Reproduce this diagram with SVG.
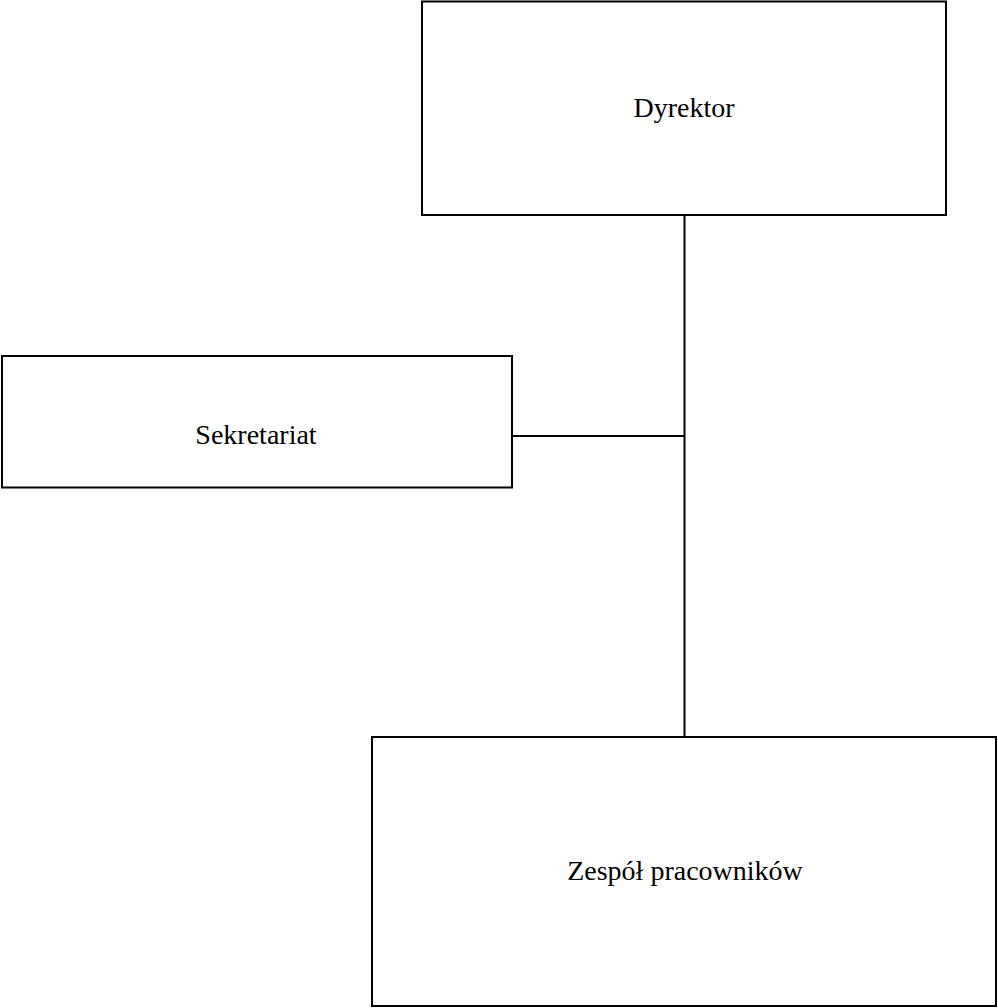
<svg xmlns="http://www.w3.org/2000/svg" width="998" height="1008" viewBox="0 0 998 1008">
<style>
.box{fill:#fff;stroke:#000;stroke-width:2}
.lbl{font-family:"Liberation Serif",serif;font-size:28px;fill:#000;text-anchor:middle}
.conn{stroke:#000;stroke-width:2;fill:none}
</style>
<rect width="998" height="1008" fill="#fff"/>
<g id="connectors">
<line class="conn" x1="684.5" y1="215" x2="684.5" y2="737"/>
<line class="conn" x1="512" y1="436" x2="684.5" y2="436"/>
</g>
<g id="dyrektor">
<rect class="box" x="422" y="1.5" width="524" height="213.5"/>
<text class="lbl" x="684" y="117">Dyrektor</text>
</g>
<g id="sekretariat">
<rect class="box" x="2" y="356" width="510" height="131.5"/>
<text class="lbl" x="256" y="444">Sekretariat</text>
</g>
<g id="zespol">
<rect class="box" x="372" y="737" width="624" height="269"/>
<text class="lbl" x="685" y="880">Zespół pracowników</text>
</g>
</svg>
